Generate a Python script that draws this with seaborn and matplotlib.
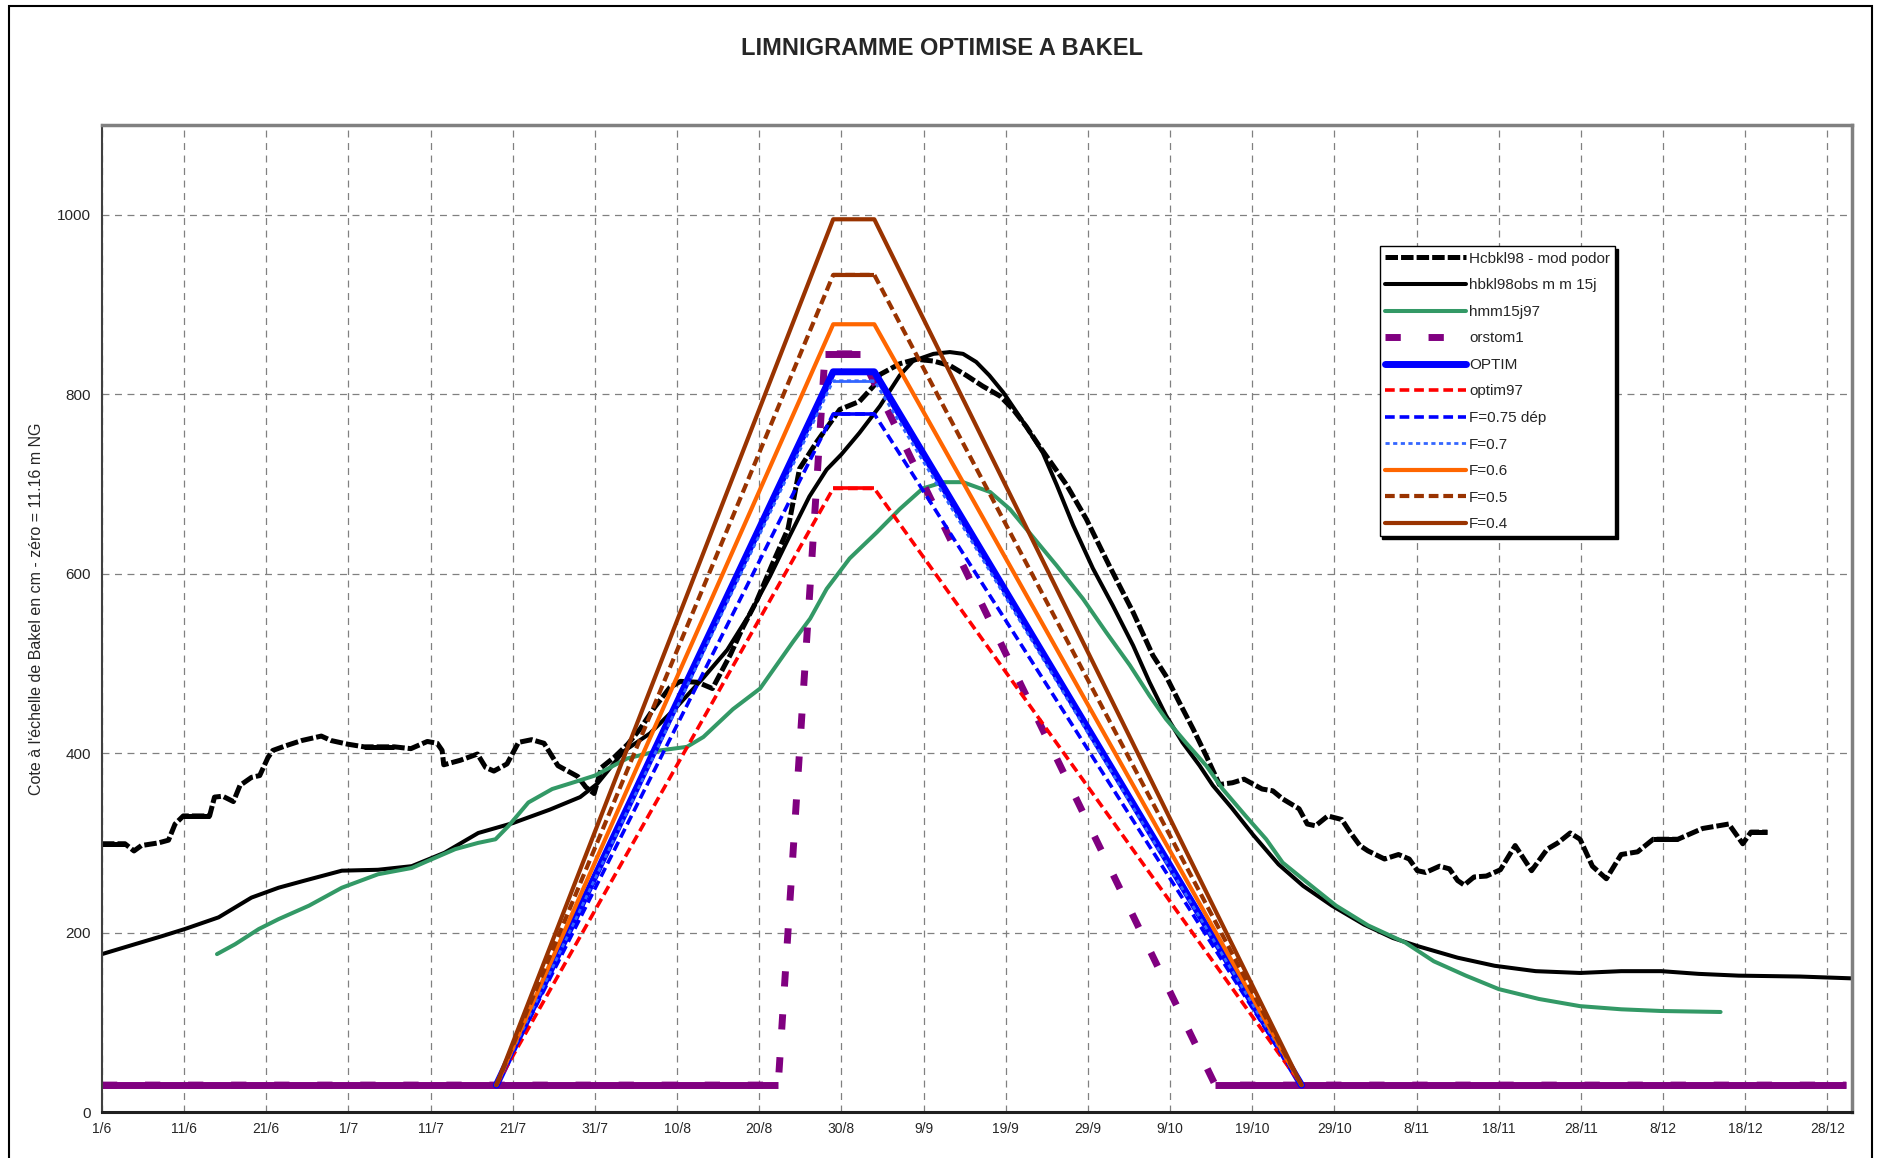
import numpy as np
import pandas as pd
import matplotlib
matplotlib.use("Agg")
import matplotlib.pyplot as plt
import seaborn as sns
from matplotlib.patches import Rectangle

# ---------------- data (days counted from 1 June) ----------------
tick_days = [0, 10, 20, 30, 40, 50, 60, 70, 80, 90, 100, 110, 120, 130, 140,
             150, 160, 170, 180, 190, 200, 210]
tick_labels = ["1/6", "11/6", "21/6", "1/7", "11/7", "21/7", "31/7", "10/8",
               "20/8", "30/8", "9/9", "19/9", "29/9", "9/10", "19/10", "29/10",
               "8/11", "18/11", "28/11", "8/12", "18/12", "28/12"]
y_ticks = [0, 200, 400, 600, 800, 1000]

# Hcbkl98 - mod podor
hc_days = [0, 2.8, 3.9, 4.8, 6.9, 8.1, 8.9, 9.9, 13.1, 13.7, 14.7, 16.0, 16.8,
           18.2, 19.2, 20.2, 20.8, 22.3, 24.3, 26.7, 27.9, 29.9, 31.9, 35.6,
           37.6, 39.6, 40.8, 41.4, 41.6, 43.6, 45.7, 46.7, 47.7, 49.3, 50.7,
           52.3, 53.8, 55.5, 57.9, 58.9, 59.9, 60.8, 62.3, 64.0, 65.5, 67.1,
           69.1, 70.4, 72.5, 74.3, 76.5, 78.0, 79.7, 81.7, 83.5, 84.9, 87.0,
           89.8, 92.2, 93.9, 94.7, 97.1, 99.1, 101.2, 103.2, 105.2, 107.2,
           109.3, 110.9, 112.5, 114.1, 115.8, 117.4, 119.8, 122.6, 125.5,
           127.9, 129.5, 131.1, 132.8, 134.4, 136.0, 137.6, 139.0, 139.8,
           141.2, 142.5, 143.7, 145.7, 146.7, 147.7, 149.2, 150.9, 151.9,
           153.1, 154.1, 156.1, 157.8, 159.1, 160.1, 161.1, 162.8, 164.0,
           165.0, 165.8, 167.0, 168.5, 170.2, 172.0, 174.0, 175.9, 177.2,
           178.7, 179.9, 181.4, 183.1, 184.9, 186.9, 188.8, 191.8, 194.8,
           198.0, 199.7, 200.7, 202.7]
hc_vals = [299, 299, 291, 297, 300, 303, 321, 330, 330, 351, 352, 346, 364,
           373, 375, 395, 403, 408, 414, 419, 414, 410, 407, 407,
           405, 413, 411, 403, 387, 392, 399, 384, 380, 388, 412,
           415, 411, 386, 374, 362, 355, 384, 395, 410, 427, 449,
           473, 480, 479, 472, 510, 540, 570, 613, 650, 717, 747,
           783, 792, 809, 822, 834, 839, 837, 832, 821, 809,
           798, 783, 764, 742, 720, 699, 661, 609, 557,
           509, 486, 457, 427, 397, 365, 367, 371, 367,
           360, 358, 349, 338, 321, 319, 330, 326, 312,
           297, 291, 282, 287, 282, 269, 267, 274, 271,
           258, 253, 262, 263, 270, 297, 269, 293, 300,
           311, 304, 274, 260, 287, 290, 304, 304, 316,
           321, 299, 312, 312]

# hbkl98obs m m 15j
obs_days = [0, 4, 7.3, 10.1, 14.2, 18.2, 21.5, 24.7, 29.2, 33.6, 37.7, 41.7,
            45.8, 50, 54.5, 58.2, 60.3, 63.5, 66.7, 70, 73.2, 76.1, 78.9,
            81.3, 83.7, 86.1, 88.2, 90, 92.2, 94.7, 97.1, 98.7, 101.2, 103.2,
            104.8, 106.4, 108, 109.7, 111.7, 114.5, 116.2, 118.2, 120.6, 123,
            125.5, 127.5, 129.5, 131.5, 133.6, 135.2, 137.5, 140.1, 143.2,
            146.2, 149.7, 153.6, 157.1, 160.1, 165, 169.5, 174.5, 179.9,
            184.9, 189.8, 194.3, 199.2, 206.7, 212.9]
obs_vals = [176, 187, 196, 204, 217, 239, 250, 258, 269, 270, 274, 289,
            311, 322, 337, 351, 366, 402, 422, 452, 484, 515, 556,
            597, 642, 686, 716, 733, 757, 787, 821, 837, 845, 847,
            845, 836, 821, 802, 775, 735, 699, 654, 606, 565,
            520, 479, 442, 412, 386, 364, 339, 309, 276,
            252, 230, 209, 194, 185, 172, 163, 157, 155,
            157, 157, 154, 152, 151, 149]

# hmm15j97
h97_days = [14, 16.2, 19.1, 21.5, 25.2, 29.2, 33.6, 37.7, 39.7, 43, 45.8,
            47.9, 49.5, 51.9, 54.8, 57.6, 60, 63.9, 67.9, 71.2, 73.2, 76.8,
            80.1, 82.1, 84.1, 86.2, 88.2, 91, 94.3, 97.1, 99.9, 102.4, 104.8,
            108.1, 110.5, 113.3, 116.2, 119.4, 122.2, 125.1, 127.5, 129.5,
            131.9, 134.4, 136.4, 139.2, 141.7, 143.7, 147.2, 150.2, 154.1,
            158.6, 162.1, 166, 170, 174.9, 179.9, 184.9, 189.8, 197]
h97_vals = [176, 187, 204, 215, 230, 250, 265, 272, 280, 293, 300,
            304, 319, 345, 360, 368, 375, 394, 403, 407, 418, 449,
            472, 498, 524, 550, 583, 617, 646, 672, 695, 702, 702,
            691, 672, 641, 609, 572, 535, 498, 464, 438,
            412, 386, 360, 330, 304, 278, 252, 230, 208,
            189, 168, 152, 137, 126, 118, 114.5, 112.6, 111.5]

# orstom1
orstom_days = [0, 82.3, 88.0, 92.3, 135.5, 212.3]
orstom_vals = [30, 30, 845, 845, 30, 30]

# optimised hydrographs (start, plateau start, plateau end, end)
tri_days = [48, 89, 94, 146]
tri_base = 30
peak_optim = 825
peak_optim97 = 695
peak_f075 = 778
peak_f07 = 815
peak_f06 = 878
peak_f05 = 933
peak_f04 = 995

# ---------------- style ----------------
sns.set_style("white")
plt.rcParams["font.family"] = ["Liberation Sans", "DejaVu Sans"]
plt.rcParams["lines.scale_dashes"] = False

fig = plt.figure(figsize=(18.81, 11.58), dpi=100)
ax = fig.add_axes([0.0542, 0.0397, 0.9304, 0.8523])
ax.set_axisbelow(True)


def draw(days, vals, label, color, lw, dash=None):
    df = pd.DataFrame({"jour": days, "cote": vals})
    if dash is None:
        sns.lineplot(data=df, x="jour", y="cote", ax=ax, label=label,
                     color=color, linewidth=lw, solid_capstyle="round",
                     solid_joinstyle="round")
    else:
        sns.lineplot(data=df, x="jour", y="cote", ax=ax, label=label,
                     color=color, linewidth=lw, linestyle=(0, dash),
                     dash_capstyle="butt")
        # flat stretches look continuous in the original chart
        for i in range(len(days) - 1):
            if vals[i] == vals[i + 1]:
                sns.lineplot(data=df.iloc[i:i + 2], x="jour", y="cote", ax=ax,
                             color=color, linewidth=lw,
                             solid_capstyle="butt")


def tri(peak):
    return [tri_base, peak, peak, tri_base]


draw(hc_days, hc_vals, "Hcbkl98 - mod podor", "black", 3.6, (9, 2.2))
draw(obs_days, obs_vals, "hbkl98obs m m 15j", "black", 2.9)
draw(h97_days, h97_vals, "hmm15j97", "#339966", 2.9)
draw(orstom_days, orstom_vals, "orstom1", "#800080", 5.0, (11, 20))
draw(tri_days, tri(peak_optim), "OPTIM", "#0000FF", 5.0)
draw(tri_days, tri(peak_optim97), "optim97", "#FF0000", 2.6, (7, 3.5))
draw(tri_days, tri(peak_f075), "F=0.75 dép", "#0000FF", 2.6, (7, 3.5))
draw(tri_days, tri(peak_f07), "F=0.7", "#3366FF", 2.0, (3, 2.5))
draw(tri_days, tri(peak_f06), "F=0.6", "#FF6600", 3.0)
draw(tri_days, tri(peak_f05), "F=0.5", "#993300", 3.0, (7, 3.5))
draw(tri_days, tri(peak_f04), "F=0.4", "#993300", 3.0)

# ---------------- axes ----------------
ax.set_xlim(0, 213)
ax.set_ylim(0, 1100)
ax.set_xticks(tick_days)
ax.set_xticklabels(tick_labels, fontsize=10)
ax.set_yticks(y_ticks)
ax.set_yticklabels([str(v) for v in y_ticks], fontsize=11)
ax.set_xlabel("")
ax.set_ylabel("Cote à l'échelle de Bakel en cm - zéro = 11.16 m NG",
              fontsize=11.5)
ax.yaxis.set_label_coords(-0.033, 0.51)
ax.grid(True, color="#808080", linestyle=(0, (5, 4)), linewidth=0.9)
ax.tick_params(axis="x", direction="inout", length=7, width=1,
               color="#404040", pad=4)
ax.tick_params(axis="y", direction="out", length=5, width=1,
               color="#404040", pad=3)
for side in ["top", "right"]:
    ax.spines[side].set_color("#808080")
    ax.spines[side].set_linewidth(2.5)
ax.spines["left"].set_color("#404040")
ax.spines["left"].set_linewidth(1.5)
ax.spines["bottom"].set_color("#202020")
ax.spines["bottom"].set_linewidth(2.2)

handles, labels = ax.get_legend_handles_labels()
leg = ax.legend(handles, labels, loc="upper left",
                bbox_to_anchor=(0.730, 0.877), borderaxespad=0,
                fontsize=11, handlelength=5.3, handletextpad=0.2,
                labelspacing=0.82, borderpad=0.35, frameon=True,
                fancybox=False, framealpha=1,
                shadow={"color": "black", "alpha": 1})
leg.get_frame().set_edgecolor("black")
leg.get_frame().set_linewidth(1.0)

fig.text(0.501, 0.958, "LIMNIGRAMME OPTIMISE A BAKEL", ha="center",
         va="center", fontsize=17, fontweight="bold")

fig.patches.append(Rectangle((9 / 1881, -0.02), (1872 - 9) / 1881,
                             1.02 - 6 / 1158, transform=fig.transFigure,
                             fill=False, edgecolor="black", linewidth=1.5))

fig.savefig("out.png", dpi=100)
